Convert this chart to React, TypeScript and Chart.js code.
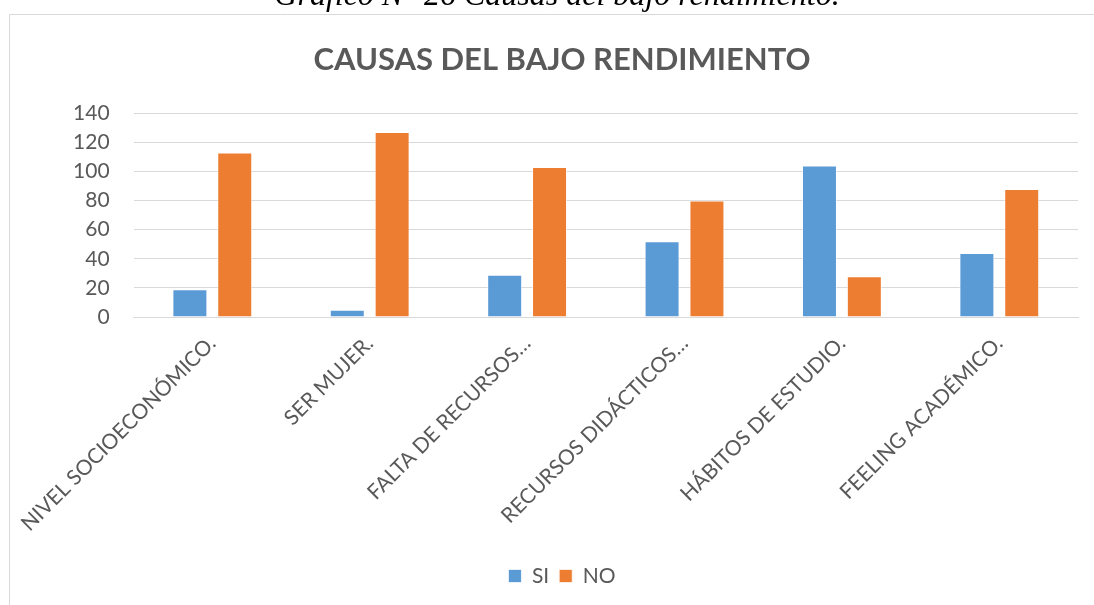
import React, { useEffect, useRef } from "react";
import { Chart, registerables } from "chart.js";

Chart.register(...registerables);

const categories = [
  "NIVEL SOCIOECONÓMICO.",
  "SER MUJER.",
  "FALTA DE RECURSOS…",
  "RECURSOS DIDÁCTICOS…",
  "HÁBITOS DE ESTUDIO.",
  "FEELING ACADÉMICO.",
];
const siValues = [19, 5, 29, 52, 104, 44];
const noValues = [113, 127, 103, 80, 28, 88];
const seriesNames = ["SI", "NO"];
const chartTitle = "CAUSAS DEL BAJO RENDIMIENTO";
const caption = "Gráfico N° 26 Causas del bajo rendimiento.";

const W = 1094;
const H = 605;

const framePlugin = {
  id: "framePlugin",
  beforeDraw(chart: any) {
    const ctx = chart.ctx;
    ctx.save();
    ctx.fillStyle = "#ffffff";
    ctx.fillRect(0, 0, W, H);
    ctx.strokeStyle = "#D9D9D9";
    ctx.lineWidth = 1;
    ctx.beginPath();
    ctx.moveTo(9.5, H);
    ctx.lineTo(9.5, 14.5);
    ctx.lineTo(W, 14.5);
    ctx.stroke();
    ctx.fillStyle = "#000000";
    ctx.font = "italic 32px 'Liberation Serif', 'Times New Roman', serif";
    ctx.textAlign = "center";
    ctx.textBaseline = "alphabetic";
    ctx.fillText(caption, 557, 5);
    ctx.restore();
  },
};

export default function App() {
  const ref = useRef<HTMLCanvasElement | null>(null);

  useEffect(() => {
    if (!ref.current) return;
    const font = "Lato, 'Open Sans', sans-serif";
    const chart = new Chart(ref.current, {
      type: "bar",
      data: {
        labels: categories,
        datasets: [
          {
            label: seriesNames[0],
            data: siValues,
            backgroundColor: "#5B9BD5",
            borderColor: "rgba(255,255,255,0.7)",
            borderWidth: 1,
            categoryPercentage: 0.57,
            barPercentage: 0.78,
          },
          {
            label: seriesNames[1],
            data: noValues,
            backgroundColor: "#ED7D31",
            borderColor: "rgba(255,255,255,0.7)",
            borderWidth: 1,
            categoryPercentage: 0.57,
            barPercentage: 0.78,
          },
        ],
      },
      plugins: [framePlugin],
      options: {
        animation: false,
        responsive: false,
        maintainAspectRatio: false,
        devicePixelRatio: 1,
        layout: { padding: { left: 46, right: 16, top: 14, bottom: 8.5 } },
        plugins: {
          title: {
            display: true,
            text: chartTitle,
            color: "#595959",
            font: { family: font, size: 31, weight: "bold", lineHeight: 1.2 },
            padding: { top: 27, bottom: 35 },
          },
          legend: {
            display: true,
            position: "bottom",
            labels: {
              boxWidth: 13,
              boxHeight: 13,
              padding: 10,
              color: "#595959",
              font: { family: font, size: 21 },
            },
          },
          tooltip: { enabled: false },
        },
        scales: {
          x: {
            grid: { display: false, drawTicks: false },
            border: { display: true, color: "#D9D9D9", width: 1 },
            ticks: {
              autoSkip: false,
              maxRotation: 45,
              minRotation: 45,
              padding: 14,
              color: "#595959",
              font: { family: font, size: 21 },
            },
            afterFit(scale: any) {
              scale.height = 238.5;
            },
          },
          y: {
            min: 0,
            max: 140,
            grid: { color: "#D9D9D9", lineWidth: 1, drawTicks: false },
            border: { display: false },
            ticks: {
              stepSize: 20,
              padding: 24,
              color: "#595959",
              font: { family: font, size: 21 },
            },
            afterFit(scale: any) {
              scale.width = 86;
            },
          },
        },
      },
    });
    return () => chart.destroy();
  }, []);

  return (
    <div style={{ position: "absolute", left: 0, top: 0, width: W, height: H, overflow: "hidden", background: "#fff" }}>
      <canvas ref={ref} width={W} height={H} style={{ display: "block", width: W, height: H }} />
    </div>
  );
}
